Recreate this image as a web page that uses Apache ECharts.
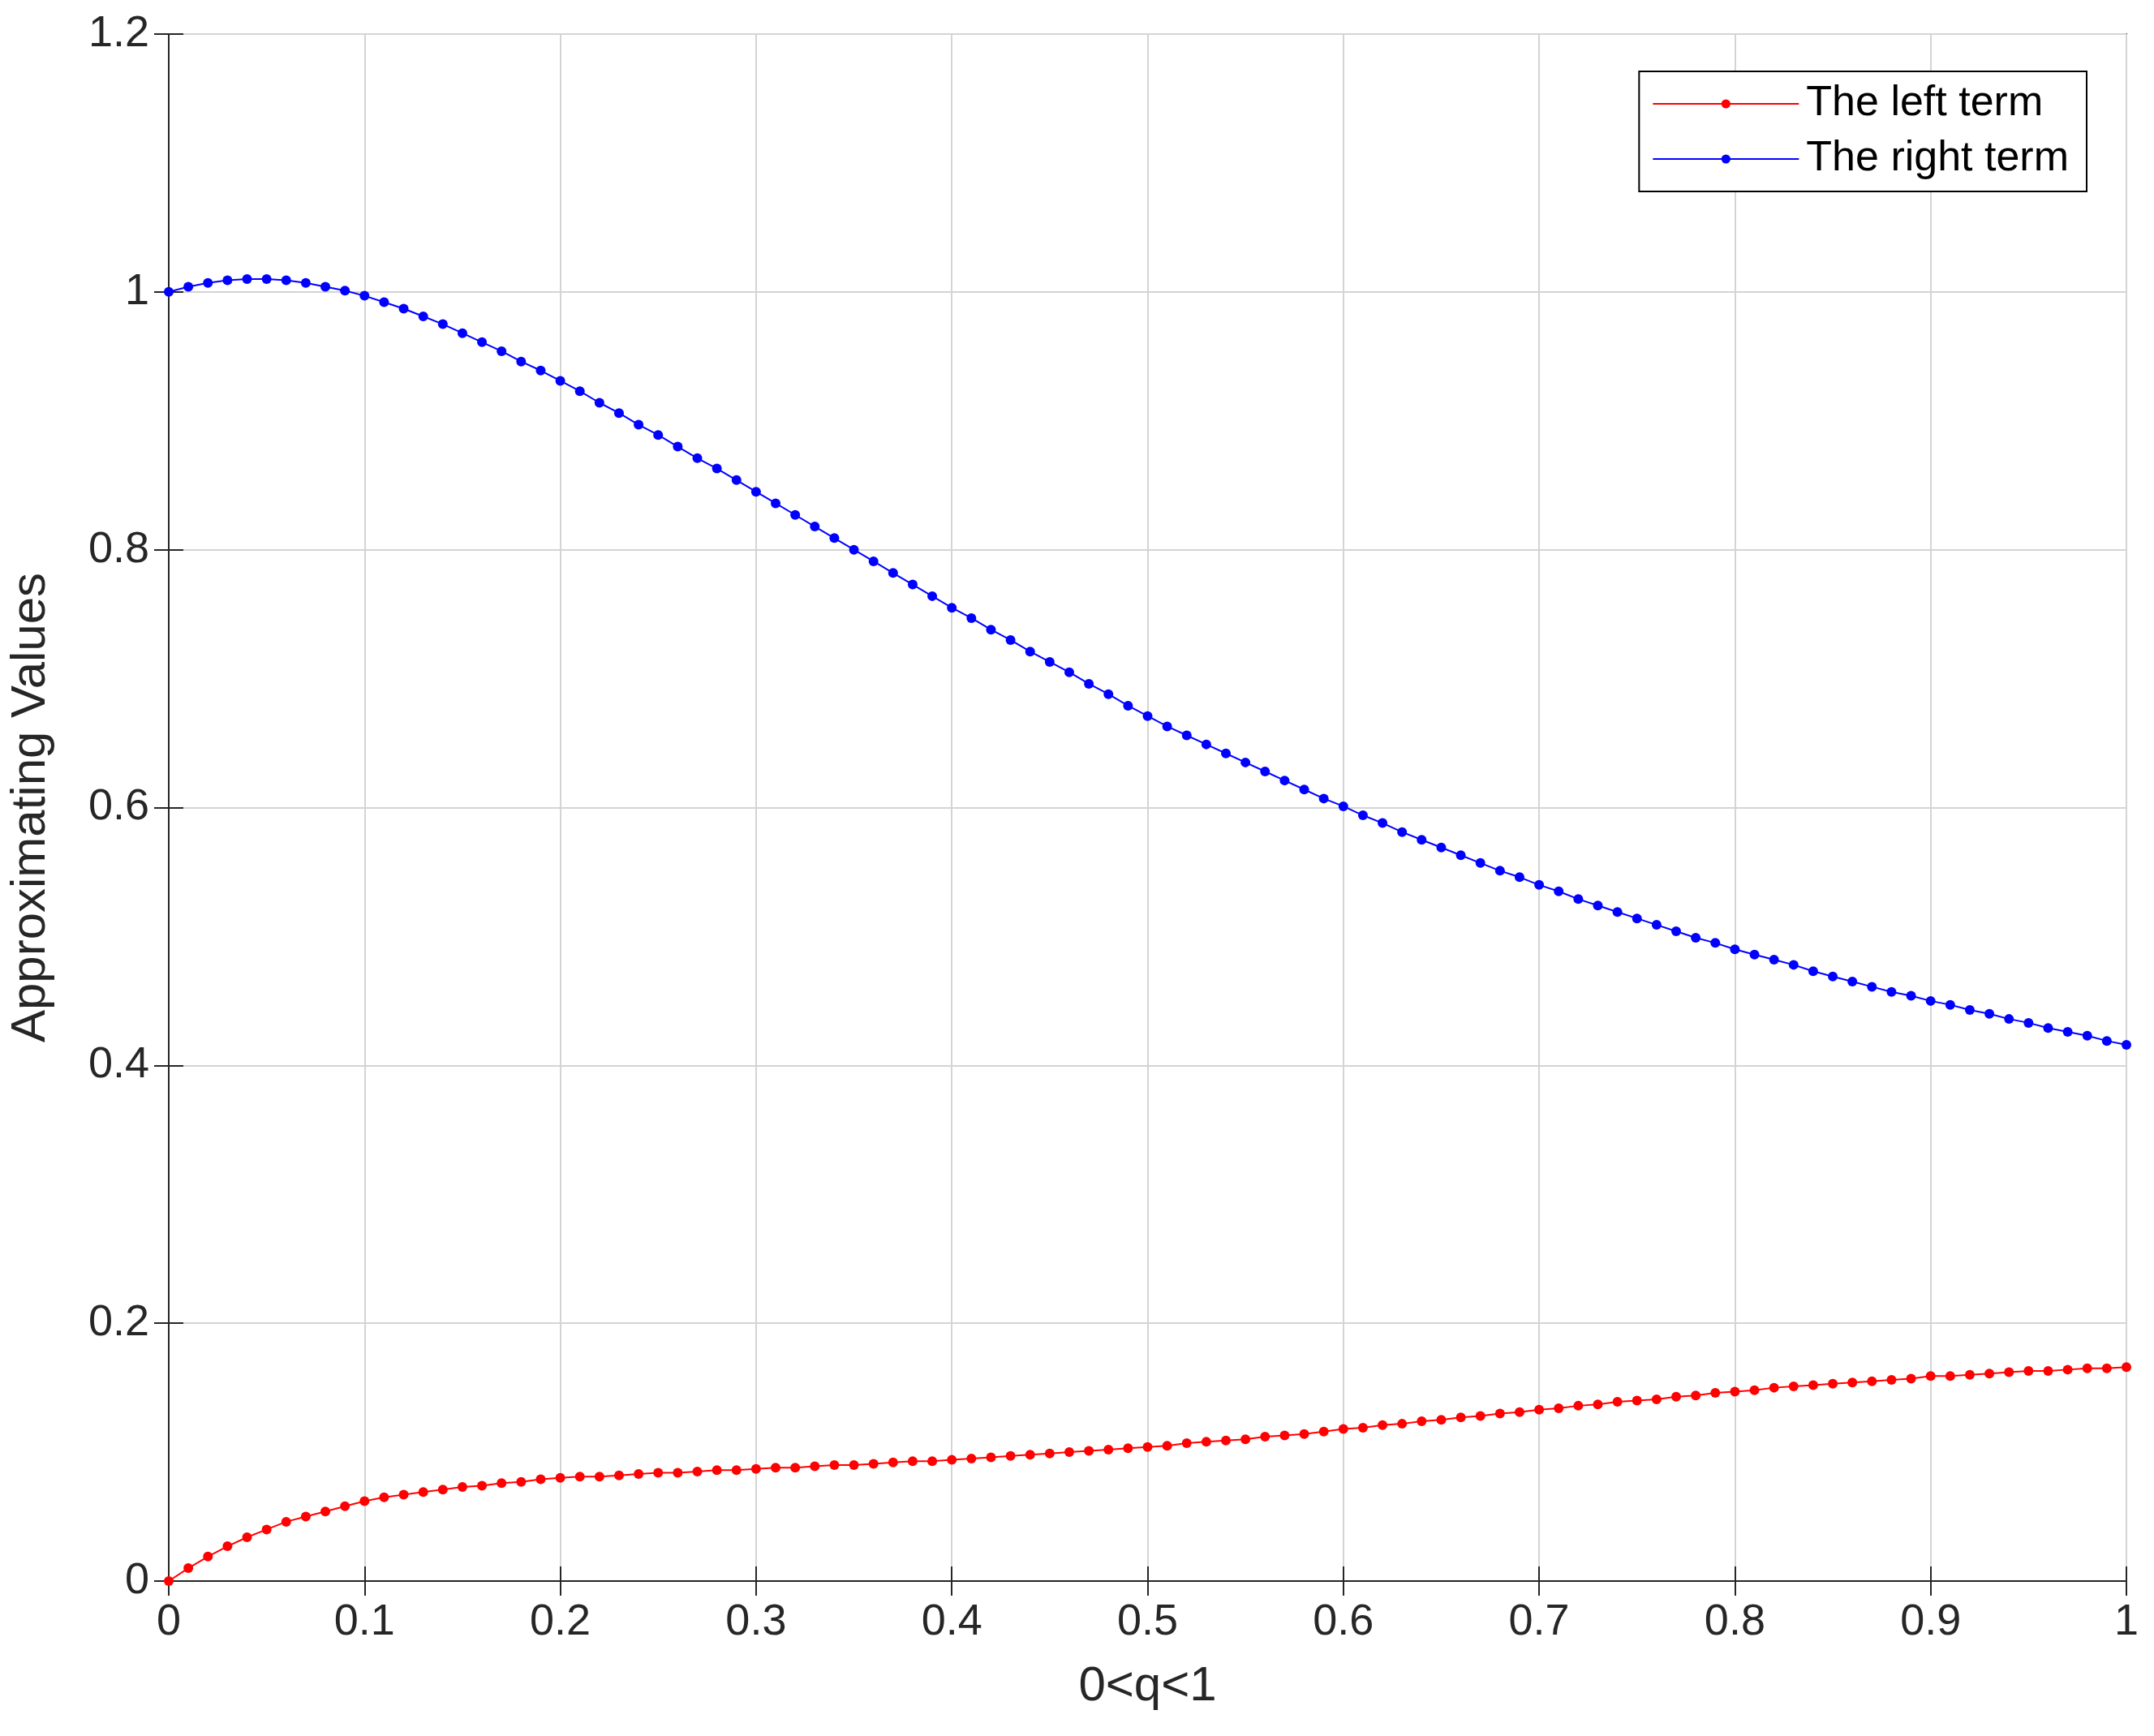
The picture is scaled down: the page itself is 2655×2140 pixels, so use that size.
<!DOCTYPE html>
<html><head><meta charset="utf-8">
<script src="https://cdn.jsdelivr.net/npm/echarts@6/dist/echarts.min.js"></script>
<style>html,body{margin:0;padding:0;background:#fff}#c{width:2655px;height:2140px}</style>
</head><body><div id="c"></div>
<script>
const q = [];
for (let i = 0; i <= 100; i++) q.push(+(i / 100).toFixed(2));
const rightTerm = [1.000,1.004,1.007,1.009,1.010,1.010,1.009,1.007,1.004,1.001,0.997,0.992,0.987,0.981,0.975,0.968,0.961,0.954,0.946,0.939,0.931,0.923,0.914,0.906,0.897,0.889,0.880,0.871,0.863,0.854,0.845,0.836,0.827,0.818,0.809,0.800,0.791,0.782,0.773,0.764,0.755,0.747,0.738,0.730,0.721,0.713,0.705,0.696,0.688,0.679,0.671,0.663,0.656,0.649,0.642,0.635,0.628,0.621,0.614,0.607,0.601,0.594,0.588,0.581,0.575,0.569,0.563,0.557,0.551,0.546,0.540,0.535,0.529,0.524,0.519,0.514,0.509,0.504,0.499,0.495,0.490,0.486,0.482,0.478,0.473,0.469,0.465,0.461,0.457,0.454,0.450,0.447,0.443,0.440,0.436,0.433,0.429,0.426,0.423,0.419,0.416];
const leftTerm = [0,0.010,0.019,0.027,0.034,0.040,0.046,0.050,0.054,0.058,0.062,0.065,0.067,0.069,0.071,0.073,0.074,0.076,0.077,0.079,0.080,0.081,0.081,0.082,0.083,0.084,0.084,0.085,0.086,0.086,0.087,0.088,0.088,0.089,0.090,0.090,0.091,0.092,0.093,0.093,0.094,0.095,0.096,0.097,0.098,0.099,0.100,0.101,0.102,0.103,0.104,0.105,0.107,0.108,0.109,0.110,0.112,0.113,0.114,0.116,0.118,0.119,0.121,0.122,0.124,0.125,0.127,0.128,0.130,0.131,0.133,0.134,0.136,0.137,0.139,0.140,0.141,0.143,0.144,0.146,0.147,0.148,0.150,0.151,0.152,0.153,0.154,0.155,0.156,0.157,0.159,0.159,0.160,0.161,0.162,0.163,0.163,0.164,0.165,0.165,0.166];

const font = 'Liberation Sans, Arial, sans-serif';
const txt = '#262626';
const pair = (ys) => q.map((x, i) => [x, ys[i]]);
const baseAxis = {
  axisLine: {show: true, lineStyle: {color: txt, width: 2}},
  axisTick: {show: true, inside: true, length: 18, lineStyle: {color: txt, width: 2}},
  axisLabel: {color: txt, fontSize: 54, fontFamily: font, margin: 24}
};
const chart = echarts.init(document.getElementById('c'));
chart.setOption({
  animation: false,
  backgroundColor: '#fff',
  grid: {left: 208, right: 34, top: 42, bottom: 191, show: true, borderColor: txt, borderWidth: 2},
  legend: {
    orient: 'vertical', right: 83, top: 88,
    backgroundColor: '#fff', borderColor: '#000', borderWidth: 2,
    padding: [14, 22, 14, 16], itemGap: 16, itemWidth: 180, itemHeight: 14,
    textStyle: {fontSize: 52, fontFamily: font, color: '#000', padding: [0, 0, 0, 4]},
    data: ['The left term', 'The right term']
  },
  xAxis: [
    Object.assign({}, baseAxis, {type: 'value', min: 0, max: 1, interval: 0.1,
      name: '0<q<1', nameLocation: 'middle', nameGap: 100,
      nameTextStyle: {color: txt, fontSize: 60, fontFamily: font},
      axisLabel: Object.assign({}, baseAxis.axisLabel, {formatter: v => String(+v.toFixed(1))}),
      splitLine: {show: true, lineStyle: {color: '#d4d4d4', width: 2}}}),
    Object.assign({}, baseAxis, {type: 'value', min: 0, max: 1, interval: 0.1, position: 'top',
      axisLabel: {show: false}, splitLine: {show: false}})
  ],
  yAxis: [
    Object.assign({}, baseAxis, {type: 'value', min: 0, max: 1.2, interval: 0.2,
      name: 'Approximating Values', nameLocation: 'middle', nameGap: 140,
      nameTextStyle: {color: txt, fontSize: 60, fontFamily: font},
      axisLabel: Object.assign({}, baseAxis.axisLabel, {formatter: v => String(+v.toFixed(1))}),
      splitLine: {show: true, lineStyle: {color: '#d4d4d4', width: 2}}}),
    Object.assign({}, baseAxis, {type: 'value', min: 0, max: 1.2, interval: 0.2, position: 'right',
      axisLabel: {show: false}, splitLine: {show: false}})
  ],
  series: [
    {name: 'The left term', type: 'line', data: pair(leftTerm), symbol: 'circle', symbolSize: 12,
     itemStyle: {color: '#ff0000'}, lineStyle: {color: '#ff0000', width: 2}},
    {name: 'The right term', type: 'line', data: pair(rightTerm), symbol: 'circle', symbolSize: 12,
     itemStyle: {color: '#0000ff'}, lineStyle: {color: '#0000ff', width: 2}}
  ]
});
</script></body></html>
